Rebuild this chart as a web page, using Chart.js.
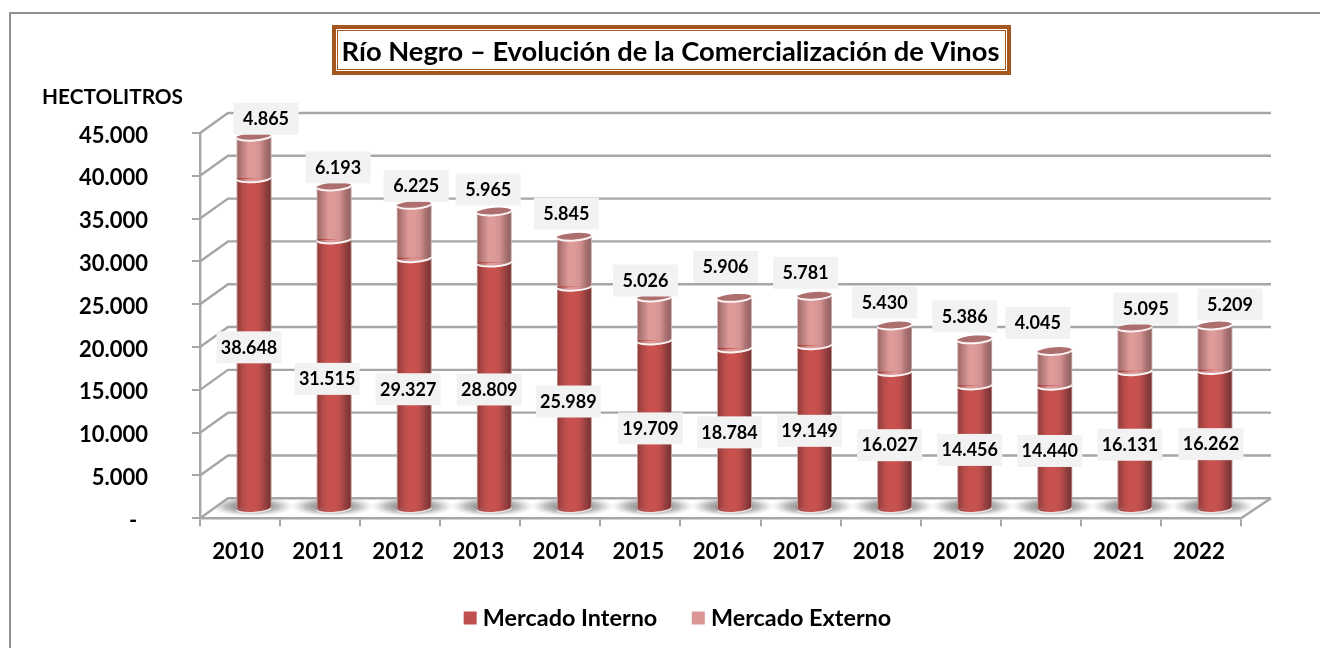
<!DOCTYPE html>
<html><head><meta charset="utf-8">
<style>html,body{margin:0;padding:0;background:#fff}#w{width:1320px;height:648px;position:relative}</style>
<script src="https://cdn.jsdelivr.net/npm/chart.js@4"></script>
</head><body><div id="w"><canvas id="c" width="1320" height="648"></canvas></div>
<script>
const categories = ['2010','2011','2012','2013','2014','2015','2016','2017','2018','2019','2020','2021','2022'];
const mercadoInterno = [38648,31515,29327,28809,25989,19709,18784,19149,16027,14456,14440,16131,16262];
const mercadoExterno = [4865,6193,6225,5965,5845,5026,5906,5781,5430,5386,4045,5095,5209];
const yTickLabels = ['-  ','5.000','10.000','15.000','20.000','25.000','30.000','35.000','40.000','45.000'];
const titleText = 'Río Negro – Evolución de la Comercialización de Vinos';
const yAxisName = 'HECTOLITROS';
const seriesNames = ['Mercado Interno','Mercado Externo'];
// hand-placed data label offsets, relative to the bar top (externo) and bar middle (interno)
const extLabelDx = [12,4,2,-6,-8,-9,-9,-9,-10,-10,-17,11,15];
const extLabelDy = [-18,-19,-19,-22,-23,-17,-31,-23,-23,-23,-28,-19,-21];
const intLabelDx = [-5,-7,-6,-5,-6,-4,-5,-5,-5,-5,-5,-5,-4];
const intLabelDy = [4,5,6,4,4,4,4,4,5,3,4,5,5];

const FONT = 'Lato, Carlito, sans-serif';
const DEPTH_X = 28, DEPTH_Y = 20, BAR_DX = 14, BAR_DY = 9, BAR_W = 34;
const C_INT = '#c0504d', C_EXT = '#d99694', GRID = '#a6a6a6';
const fmt = v => String(v).replace(/\B(?=(\d{3})+$)/g,'.');

function barFill(stops, flat){
  return function(ctx){
    if (ctx.type !== 'data') return flat;
    const s = ctx.chart.scales.x;
    if (!s || !s.width) return flat;
    const x = s.getPixelForValue(ctx.dataIndex);
    const g = ctx.chart.ctx.createLinearGradient(x-BAR_W/2,0,x+BAR_W/2,0);
    stops.forEach((c,i)=>g.addColorStop(i/(stops.length-1),c));
    return g;
  };
}
const intStops = ['#8f3b39','#b34a47','#c9524f','#c9524f','#bd4e4b','#944040','#77302f'];
const extStops = ['#9c6564','#bd8180','#dc9a98','#dc9a98','#d39291','#aa7271','#8f6160'];

function arcFill(c, x, y, stops){
  const g = c.createLinearGradient(x-BAR_W/2,0,x+BAR_W/2,0);
  stops.forEach((s,i)=>g.addColorStop(i/(stops.length-1),s));
  c.beginPath();
  c.ellipse(x,y,BAR_W/2,3.8,-0.07,0,Math.PI);
  c.closePath();
  c.fillStyle = g; c.fill();
}
function arcLine(c,x,y,col,w){
  c.beginPath();
  c.ellipse(x,y,BAR_W/2,3.8,-0.07,0,Math.PI);
  c.strokeStyle=col; c.lineWidth=w; c.stroke();
}

const scenePlugin = {
  id:'scene',
  beforeDraw(chart){
    const c = chart.ctx;
    c.save();
    c.fillStyle='#fff'; c.fillRect(0,0,1320,648);
    c.strokeStyle='#8f8f8f'; c.lineWidth=2;
    c.beginPath(); c.moveTo(10,648); c.lineTo(10,13); c.lineTo(1320,13); c.stroke();
    c.restore();
  },
  afterLayout(chart){
    chart.titleBlock.left += 20; chart.titleBlock.right += 20;
    chart.legend.left += 29.7; chart.legend.right += 29.7;
  },
  beforeDatasetsDraw(chart){
    const c = chart.ctx, y = chart.scales.y, a = chart.chartArea;
    c.save();
    c.strokeStyle = GRID; c.lineWidth = 2.4;
    yTickLabels.forEach((_,i)=>{
      const p = y.getPixelForValue(i*5000);
      c.beginPath();
      c.moveTo(a.left,p); c.lineTo(a.left+DEPTH_X,p-DEPTH_Y); c.lineTo(a.right+DEPTH_X+2,p-DEPTH_Y);
      c.stroke();
    });
    c.beginPath();
    c.moveTo(a.right,a.bottom); c.lineTo(a.right+DEPTH_X+2,a.bottom-DEPTH_Y); c.stroke();
    // floor shadows
    const meta = chart.getDatasetMeta(0);
    meta.data.forEach(b=>{
      const cx=b.x+BAR_DX-2, cy=a.bottom-BAR_DY-3;
      c.save();
      c.beginPath(); c.moveTo(a.left+4,a.bottom-1); c.lineTo(a.left+DEPTH_X,a.bottom-DEPTH_Y+1);
      c.lineTo(a.right+DEPTH_X,a.bottom-DEPTH_Y+1); c.lineTo(a.right,a.bottom-1); c.closePath(); c.clip();
      c.translate(cx,cy); c.scale(1,0.24);
      const g=c.createRadialGradient(0,0,8,0,0,42);
      g.addColorStop(0,'rgba(80,80,80,.8)'); g.addColorStop(.55,'rgba(125,125,125,.5)'); g.addColorStop(1,'rgba(180,180,180,0)');
      c.fillStyle=g; c.beginPath(); c.arc(0,0,42,0,Math.PI*2); c.fill();
      c.restore();
    });
    c.restore();
    c.save();
    c.translate(BAR_DX,-BAR_DY);
  },
  afterDatasetsDraw(chart){
    const c = chart.ctx;
    c.restore();
    c.save();
    const m0 = chart.getDatasetMeta(0).data, m1 = chart.getDatasetMeta(1).data;
    m0.forEach((b,i)=>{
      const x=b.x+BAR_DX, base=b.base-BAR_DY, yInt=b.y-BAR_DY, yExt=m1[i].y-BAR_DY;
      arcFill(c,x,base,intStops);
      arcLine(c,x,base+0.4,'rgba(235,225,225,.95)',1.5);
      c.strokeStyle='rgba(255,255,255,.45)'; c.lineWidth=1;
      c.beginPath(); c.moveTo(x-BAR_W/2,yExt); c.lineTo(x-BAR_W/2,base);
      c.moveTo(x+BAR_W/2,yExt); c.lineTo(x+BAR_W/2,base); c.stroke();
      arcFill(c,x,yInt,extStops);
      arcLine(c,x,yInt,'#fbf3f3',2);
      c.beginPath(); c.ellipse(x,yExt,BAR_W/2,3.8,-0.07,0,Math.PI*2);
      c.fillStyle='#ad6f6e'; c.fill();
      arcLine(c,x,yExt,'#fbf3f3',2);
    });
    c.font = 'bold 18px '+FONT; c.textAlign='center'; c.textBaseline='middle';
    const box=(x,y,t)=>{
      c.fillStyle='#f2f2f2'; c.fillRect(x-32.5,y-16,65,32);
      c.fillStyle='#000'; c.fillText(t,x,y+0.5);
    };
    m0.forEach((b,i)=>{
      box(b.x+BAR_DX+intLabelDx[i],(b.y+b.base)/2-BAR_DY+intLabelDy[i],fmt(mercadoInterno[i]));
    });
    m1.forEach((b,i)=>{
      box(b.x+BAR_DX+extLabelDx[i],b.y-BAR_DY+extLabelDy[i],fmt(mercadoExterno[i]));
    });
    c.font='bold 20.8px '+FONT; c.textAlign='left'; c.fillStyle='#000';
    c.fillText(yAxisName,42,97);
    c.strokeStyle='#a5561c'; c.lineWidth=4; c.strokeRect(334,27,675,46);
    c.lineWidth=1; c.strokeRect(337.5,30.5,668,39);
    c.restore();
  }
};

new Chart(document.getElementById('c'),{
  type:'bar',
  data:{labels:categories,datasets:[
    {label:seriesNames[0],data:mercadoInterno,backgroundColor:barFill(intStops,C_INT),stack:'s',barThickness:BAR_W,clip:false},
    {label:seriesNames[1],data:mercadoExterno,backgroundColor:barFill(extStops,C_EXT),stack:'s',barThickness:BAR_W,clip:false}
  ]},
  options:{
    responsive:false,animation:false,
    layout:{padding:{left:60,right:79,top:0,bottom:8.3}},
    plugins:{
      title:{display:true,text:titleText,color:'#000',font:{family:FONT,size:27.3,weight:'bold',lineHeight:1.2},padding:{top:35.6,bottom:64.6}},
      legend:{position:'bottom',labels:{color:'#000',usePointStyle:true,boxWidth:2,boxHeight:13,padding:40,font:{family:FONT,size:23.4,weight:'bold'},
        generateLabels(){return seriesNames.map((t,i)=>({text:t,fillStyle:[C_INT,C_EXT][i],strokeStyle:'rgba(0,0,0,0)',lineWidth:0,pointStyle:'rect',datasetIndex:i,fontColor:'#000'}));}}},
      tooltip:{enabled:false}
    },
    scales:{
      x:{stacked:true,
        afterFit(s){s.height=48;},
        grid:{display:true,drawOnChartArea:false,drawTicks:true,tickLength:8,color:GRID,lineWidth:2,offset:true},
        border:{display:true,color:GRID,width:2.4},
        ticks:{color:'#000',padding:12,labelOffset:-2,maxRotation:0,autoSkip:false,font:{family:FONT,size:22.3,weight:'bold'}}},
      y:{stacked:true,min:0,max:45000,
        afterFit(s){s.width=140;},
        grid:{display:true,drawOnChartArea:false,drawTicks:true,tickLength:8,color:GRID,lineWidth:2},
        border:{display:true,color:GRID,width:2.4},
        ticks:{stepSize:5000,color:'#000',padding:44,labelOffset:2.5,font:{family:FONT,size:22,weight:'bold'},
          callback(v){return yTickLabels[Math.round(v/5000)];}}}
    }
  },
  plugins:[scenePlugin]
});
</script></body></html>
